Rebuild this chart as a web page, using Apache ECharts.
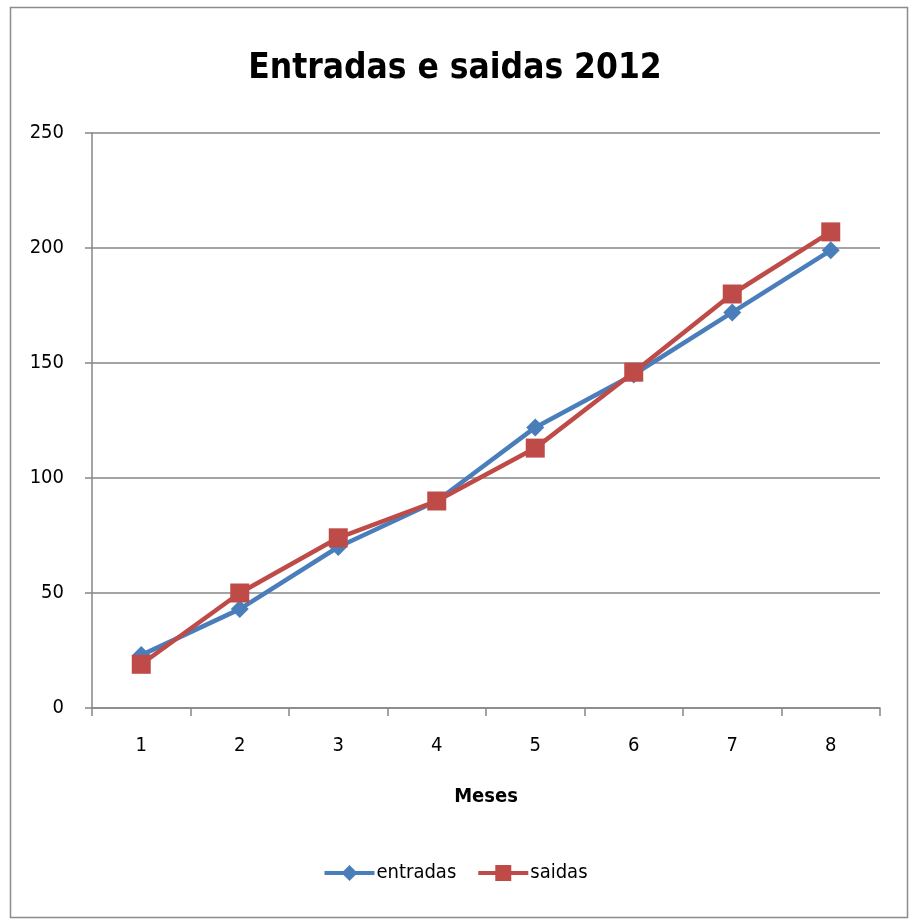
<!DOCTYPE html>
<html>
<head>
<meta charset="utf-8">
<script src="https://cdn.jsdelivr.net/npm/echarts@6/dist/echarts.min.js"></script>
<style>
  html, body { margin: 0; padding: 0; background: #ffffff; }
  #chart { width: 910px; height: 921px; }
</style>
</head>
<body>
<div id="chart"></div>
<script>
// Monthly movement for 2012
const months = ['1', '2', '3', '4', '5', '6', '7', '8'];
const entradas = [23, 43, 70, 90, 122, 145, 172, 199];
const saidas = [19, 50, 74, 90, 113, 146, 180, 207];
const yTicks = { min: 0, max: 250, interval: 50 };

const FONT = '"Liberation Sans Narrow", "DejaVu Sans Condensed", "Liberation Sans", sans-serif';
const BLUE = '#4a7ebb';
const RED = '#be4b48';

const chart = echarts.init(document.getElementById('chart'), null, { renderer: 'canvas' });

chart.setOption({
  backgroundColor: '#ffffff',
  animation: false,
  title: {
    text: 'Entradas e saidas 2012',
    left: 'center',
    top: 46,
    textStyle: { fontFamily: FONT, fontSize: 35, fontWeight: 'bold', color: '#000000' }
  },
  graphic: [{
    type: 'rect',
    left: 8, top: 5,
    shape: { width: 897, height: 910 },
    style: { fill: 'none', stroke: '#8c8c8c', lineWidth: 1.5 },
    silent: true
  }],
  grid: { left: 92, right: 30, top: 133, bottom: 213, containLabel: false },
  legend: {
    bottom: 33,
    left: 'center',
    itemWidth: 50,
    itemHeight: 20,
    itemGap: 20,
    lineStyle: { width: 4 },
    textStyle: { fontFamily: FONT, fontSize: 20, color: '#000000', padding: [0, 0, 0, -3] },
    data: ['entradas', 'saidas']
  },
  xAxis: {
    type: 'category',
    data: months,
    boundaryGap: true,
    name: 'Meses',
    nameLocation: 'middle',
    nameGap: 79,
    nameTextStyle: { fontFamily: FONT, fontSize: 20, fontWeight: 'bold', color: '#000000' },
    axisLine: { lineStyle: { color: '#868686', width: 1.5 } },
    axisTick: { show: true, alignWithLabel: false, length: 8, lineStyle: { color: '#868686', width: 1.5 } },
    axisLabel: { fontFamily: FONT, fontSize: 20, color: '#000000', margin: 28 }
  },
  yAxis: {
    type: 'value',
    min: yTicks.min,
    max: yTicks.max,
    interval: yTicks.interval,
    axisLine: { show: true, lineStyle: { color: '#868686', width: 1.5 } },
    axisTick: { show: true, length: 7, lineStyle: { color: '#868686', width: 1.5 } },
    axisLabel: { fontFamily: FONT, fontSize: 20, color: '#000000', margin: 28 },
    splitLine: { show: true, lineStyle: { color: '#868686', width: 1.5 } }
  },
  series: [
    {
      name: 'entradas',
      type: 'line',
      data: entradas,
      symbol: 'diamond',
      symbolSize: 18,
      itemStyle: { color: BLUE },
      lineStyle: { color: BLUE, width: 4.5 },
      z: 2
    },
    {
      name: 'saidas',
      type: 'line',
      data: saidas,
      symbol: 'rect',
      symbolSize: 19,
      itemStyle: { color: RED },
      lineStyle: { color: RED, width: 4.5 },
      z: 3
    }
  ]
});
</script>
</body>
</html>
